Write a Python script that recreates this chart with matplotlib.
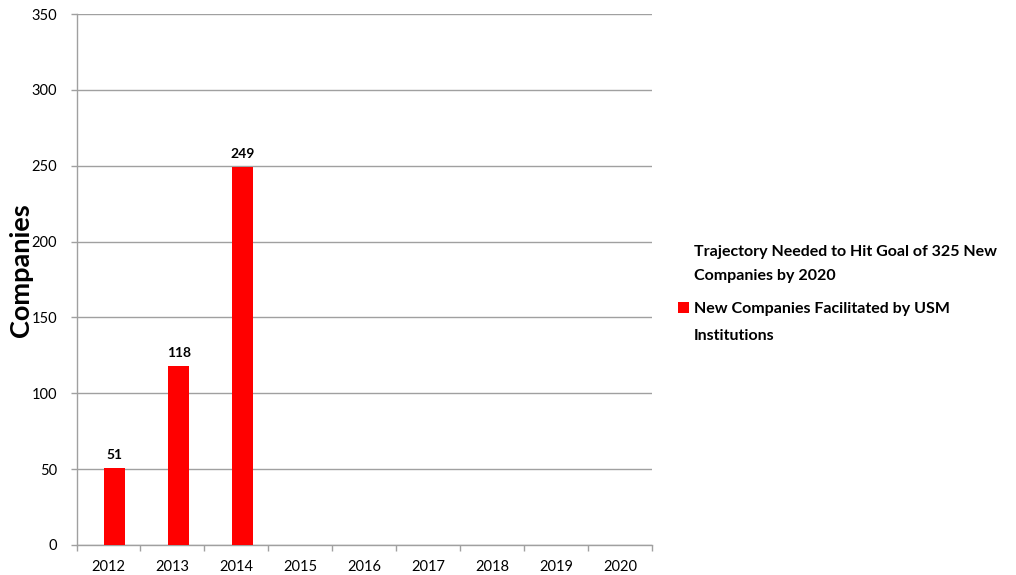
import matplotlib
matplotlib.use("Agg")
import matplotlib.pyplot as plt
from matplotlib.patches import Rectangle
import numpy as np

years = ["2012", "2013", "2014", "2015", "2016", "2017", "2018", "2019", "2020"]
new_companies = [51, 118, 249, None, None, None, None, None, None]
trajectory = [None] * 9
series_labels = ["Trajectory Needed to Hit Goal of 325 New\nCompanies by 2020",
                 "New Companies Facilitated by USM\nInstitutions"]
series_colors = ["none", "#ff0000"]
y_ticks = [0, 50, 100, 150, 200, 250, 300, 350]

plt.rcParams['font.family'] = ['Lato', 'DejaVu Sans']

W, H = 1016, 575
fig = plt.figure(figsize=(W / 100, H / 100), dpi=100)
ax = fig.add_axes([76.5 / W, 30 / H, (652 - 76.5) / W, (545 - 14) / H])

x = np.arange(len(years))
vals = [np.nan if v is None else v for v in new_companies]
ax.bar(x + 0.1, vals, width=0.33, color=series_colors[1], zorder=3)
for xi, v in zip(x, new_companies):
    if v is not None:
        ax.annotate(str(v), (xi + 0.1, v), xytext=(0, 9), textcoords='offset pixels',
                    ha='center', va='baseline', fontsize=10, fontweight='bold')

traj = [np.nan if v is None else v for v in trajectory]
ax.plot(x, traj, color='none')

ax.set_xlim(-0.5, len(years) - 0.5)
ax.set_ylim(0, 350)
ax.set_yticks(y_ticks)
ax.set_yticklabels([str(t) for t in y_ticks], fontsize=10.5)
ax.set_xticks(x)
ax.set_xticklabels(years, fontsize=10.5)
ax.set_xticks(np.arange(-0.5, len(years)), minor=True)
ax.tick_params(axis='x', which='major', length=0, pad=11)
ax.tick_params(axis='x', which='minor', length=4, color='#a0a0a0', width=1)
ax.tick_params(axis='y', length=4, color='#a0a0a0', width=1, pad=10)
ax.grid(axis='y', color='#a0a0a0', linewidth=1, zorder=0)
for s in ['top', 'right']:
    ax.spines[s].set_visible(False)
for s in ['left', 'bottom']:
    ax.spines[s].set_color('#a0a0a0')
    ax.spines[s].set_linewidth(1)

fig.text(21 / W, 1 - 270 / H, "Companies", rotation=90, ha='center', va='center',
         fontsize=19.5, fontweight='bold')

# legend drawn manually
text_x = 694 / W
baselines = [[256, 280], [313, 340]]
for label, color, bl in zip(series_labels, series_colors, baselines):
    for line, b in zip(label.split("\n"), bl):
        fig.text(text_x, 1 - b / H, line, ha='left', va='baseline',
                 fontsize=11.5, fontweight='bold')
    if color != "none":
        fig.patches.append(Rectangle((678 / W, 1 - 313 / H), 11 / W, 11 / H,
                                     transform=fig.transFigure, facecolor=color,
                                     edgecolor='none'))

fig.savefig("out.png", dpi=100)
